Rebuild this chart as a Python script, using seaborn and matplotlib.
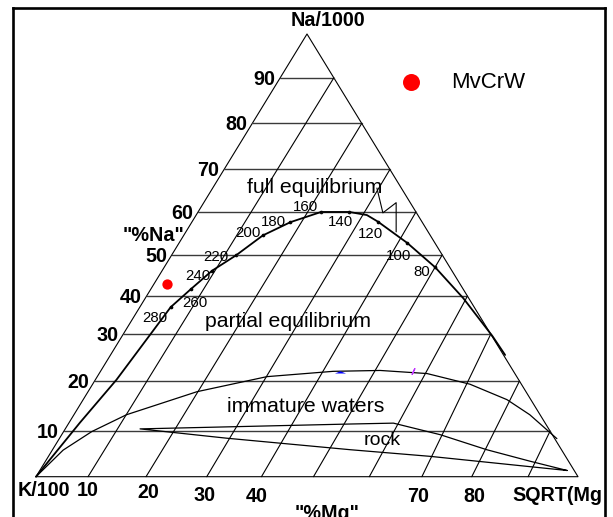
import matplotlib
matplotlib.use("Agg")
import matplotlib.pyplot as plt
from matplotlib.patches import Rectangle
import numpy as np
import pandas as pd
import seaborn as sns

# ---------------- data ----------------
na_ticks = [10, 20, 30, 40, 50, 60, 70, 80, 90]
na_grid = [10.3, 21.6, 32.2, 40.8, 50.1, 59.8, 69.4, 79.8, 90.1]   # Na level of the drawn grid lines
mg_ticks = [10, 20, 30, 40, 70, 80]                                # labelled "%Mg" values
mg_grid = [9.6, 20.3, 31.5, 41.6, 51.2, 61.5, 71.2, 80.4, 90.8]    # base position of the drawn "%Mg" lines

eq_temp = [80, 100, 120, 140, 160, 180, 200, 220, 240, 260, 280]
eq_na = [47.3, 52.8, 57.6, 59.8, 59.8, 57.5, 54.5, 50.0, 46.5, 42.4, 38.3]
eq_mg = [50.0, 42.1, 34.3, 27.9, 22.7, 18.2, 14.6, 11.9, 9.2, 7.4, 5.7]

full_eq_na = [27.5, 31.7, 40.3, 47.3, 52.8, 57.6, 59.1, 59.8, 59.8, 57.5, 54.5,
              50.0, 46.5, 42.4, 38.3, 21.9, 12.2, 0.0]
full_eq_mg = [72.8, 68.4, 58.7, 50.0, 42.1, 34.3, 31.5, 27.9, 22.7, 18.2, 14.6,
              11.9, 9.2, 7.4, 5.7, 3.9, 2.0, 0.0]

imm_na = [0.0, 6.0, 10.2, 14.0, 19.2, 22.6, 23.8, 24.0, 23.3, 20.9, 17.4, 14.0, 8.6]
imm_mg = [0.0, 2.0, 5.2, 9.7, 20.1, 31.3, 42.9, 51.5, 60.5, 69.6, 78.2, 84.1, 91.8]

rock_na = [1.4, 3.5, 6.1, 9.5, 12.1, 11.9, 10.8, 8.7, 6.1, 4.6, 1.4]
rock_mg = [97.3, 89.4, 80.1, 69.8, 59.9, 52.0, 13.8, 30.8, 54.9, 70.4, 97.3]

zig_na = [65.2, 59.6, 61.9, 55.3]
zig_mg = [30.3, 34.2, 35.5, 38.8]

sample_name = "MvCrW"
sample_na = [43.6]
sample_mg = [2.3]

blue_na, blue_mg = [23.4], [44.4]
mag_na, mag_mg = [23.8], [57.7]

# ---------------- helpers ----------------
def tern(na, mg):
    na = np.asarray(na, float) / 100.0
    mg = np.asarray(mg, float) / 100.0
    return mg + na / 2.0, na

X0, XS, Y0, YS = 36.0, 542.0, 476.7, 442.7   # pixel frame of the triangle
def px(x, y):
    return (x - X0) / XS, (Y0 - y) / YS

W, H = 613, 517
sns.set_style("white")
plt.rcParams["font.family"] = ["Liberation Sans", "DejaVu Sans"]
plt.rcParams["text.color"] = "black"

fig = plt.figure(figsize=(W / 100, H / 100), dpi=100)
ax = fig.add_axes([12.5 / W, 0, 592 / W, 509.5 / H])
ax.set_xlim(px(12.5, 0)[0], px(604.5, 0)[0])
ax.set_ylim(px(0, H)[1], px(0, 7.5)[1])
for s in ["left", "top", "right"]:
    ax.spines[s].set_visible(True)
    ax.spines[s].set_linewidth(1.9)
    ax.spines[s].set_color("black")
ax.spines["bottom"].set_visible(False)
ax.set_xticks([]); ax.set_yticks([])

# triangle
tx, ty = tern([0, 100, 0, 0], [0, 0, 100, 0])
ax.plot(tx, ty, color="black", lw=0.8)

# horizontal grid (constant Na)
for n in na_grid:
    gx, gy = tern([n, n], [0, 100 - n])
    ax.plot(gx, gy, color="#3a3a3a", lw=1.0)
# grid lines parallel to the K-Na side (constant Mg)
for i, mb in enumerate(mg_grid):
    nl = na_grid[len(na_grid) - 1 - i]
    gx, gy = tern([0, nl], [mb, 100 - nl])
    ax.plot(gx, gy, color="black", lw=0.8)

# curves
x, y = tern(full_eq_na, full_eq_mg)
sns.lineplot(x=x, y=y, sort=False, estimator=None, color="black", lw=1.3, ax=ax, legend=False)
x, y = tern(imm_na, imm_mg)
sns.lineplot(x=x, y=y, sort=False, estimator=None, color="black", lw=0.9, ax=ax, legend=False)
x, y = tern(rock_na, rock_mg)
sns.lineplot(x=x, y=y, sort=False, estimator=None, color="black", lw=0.9, ax=ax, legend=False)
x, y = tern(zig_na, zig_mg)
sns.lineplot(x=x, y=y, sort=False, estimator=None, color="black", lw=0.8, ax=ax, legend=False)

# temperature dots and labels
ex, ey = tern(eq_na, eq_mg)
sns.scatterplot(x=ex, y=ey, color="black", s=7, linewidth=0, ax=ax, legend=False)
t_off = [(-13.3, -8.4), (-9, -16.7), (-8, -16.6), (-8.6, -14.4), (-16, 0.6), (-17.4, -3.4),
         (-14.4, -2), (-19.7, -6), (-14.4, -9), (4.3, -18.4), (-15.7, -14.4)]
for t, xx, yy, (dx, dy) in zip(eq_temp, ex, ey, t_off):
    ax.annotate(str(t), (xx, yy), xytext=(dx, dy), textcoords="offset pixels",
                ha="center", va="baseline", fontsize=10.8)

# small marks
bx, by = tern(blue_na, blue_mg)
ax.plot(bx, by, linestyle="none", marker=[(-1, 0), (1, 0), (0, 0.4), (-1, 0)],
        markersize=8, color="blue", markeredgewidth=0)
mx, my = tern(mag_na, mag_mg)
ax.plot(mx, my, linestyle="none", marker=(2, 2, -25), markersize=5,
        color="#c030ff", markeredgewidth=0.9)

# sample point + legend
sx, sy = tern(sample_na, sample_mg)
sns.scatterplot(x=sx, y=sy, color="red", s=55, linewidth=0, label=sample_name, ax=ax)
lx, ly = px(389, 82)
sns.move_legend(ax, "center left", bbox_to_anchor=(lx, ly), bbox_transform=ax.transData,
                frameon=False, fontsize=16, markerscale=1.65, handlelength=2.0,
                handletextpad=0.8, borderpad=0, borderaxespad=0, labelcolor="black")

# Na tick labels
for lab, n in zip(na_ticks, na_grid):
    gx, gy = tern(n, 0)
    ax.annotate(str(lab), (gx, gy), xytext=(-5, -7), textcoords="offset pixels",
                ha="right", va="baseline", fontsize=14.2, fontweight="bold")

bold = dict(fontsize=14.2, fontweight="bold")
# Mg tick labels (layout positions in pixels)
mg_lab_px = [(87.3, 496), (148.3, 498.3), (204, 500.7), (256.3, 502.5), (418, 502.3), (474, 502.3)]
for lab, (xp, yp) in zip(mg_ticks, mg_lab_px):
    ax.text(*px(xp, yp), str(lab), ha="center", va="baseline", **bold)

ax.text(*px(17.3, 496), "K/100", ha="left", va="baseline", **bold)
sq = ax.text(*px(512.5, 500.7), "SQRT(Mg)", ha="left", va="baseline", clip_on=True, **bold)
cx0, cy0 = px(0, 517)
cx1, cy1 = px(602.0, 0)
sq.set_clip_path(Rectangle((cx0, cy0), cx1 - cx0, cy1 - cy0, transform=ax.transData))
ax.text(*px(326.7, 519), '"%Mg"', ha="center", va="baseline", clip_on=True, **bold)
ax.text(*px(327.5, 26), "Na/1000", ha="center", va="baseline", **bold)
ax.text(*px(184.3, 240.7), '"%Na"', ha="right", va="baseline", **bold)

# region labels
ax.text(*px(314.7, 192.7), "full equilibrium", ha="center", va="baseline", fontsize=15.3)
ax.text(*px(288, 327.3), "partial equilibrium", ha="center", va="baseline", fontsize=15.3)
ax.text(*px(306, 412.3), "immature waters", ha="center", va="baseline", fontsize=15.3)
ax.text(*px(381.7, 445), "rock", ha="center", va="baseline", fontsize=14)

fig.savefig("out.png", dpi=100)
